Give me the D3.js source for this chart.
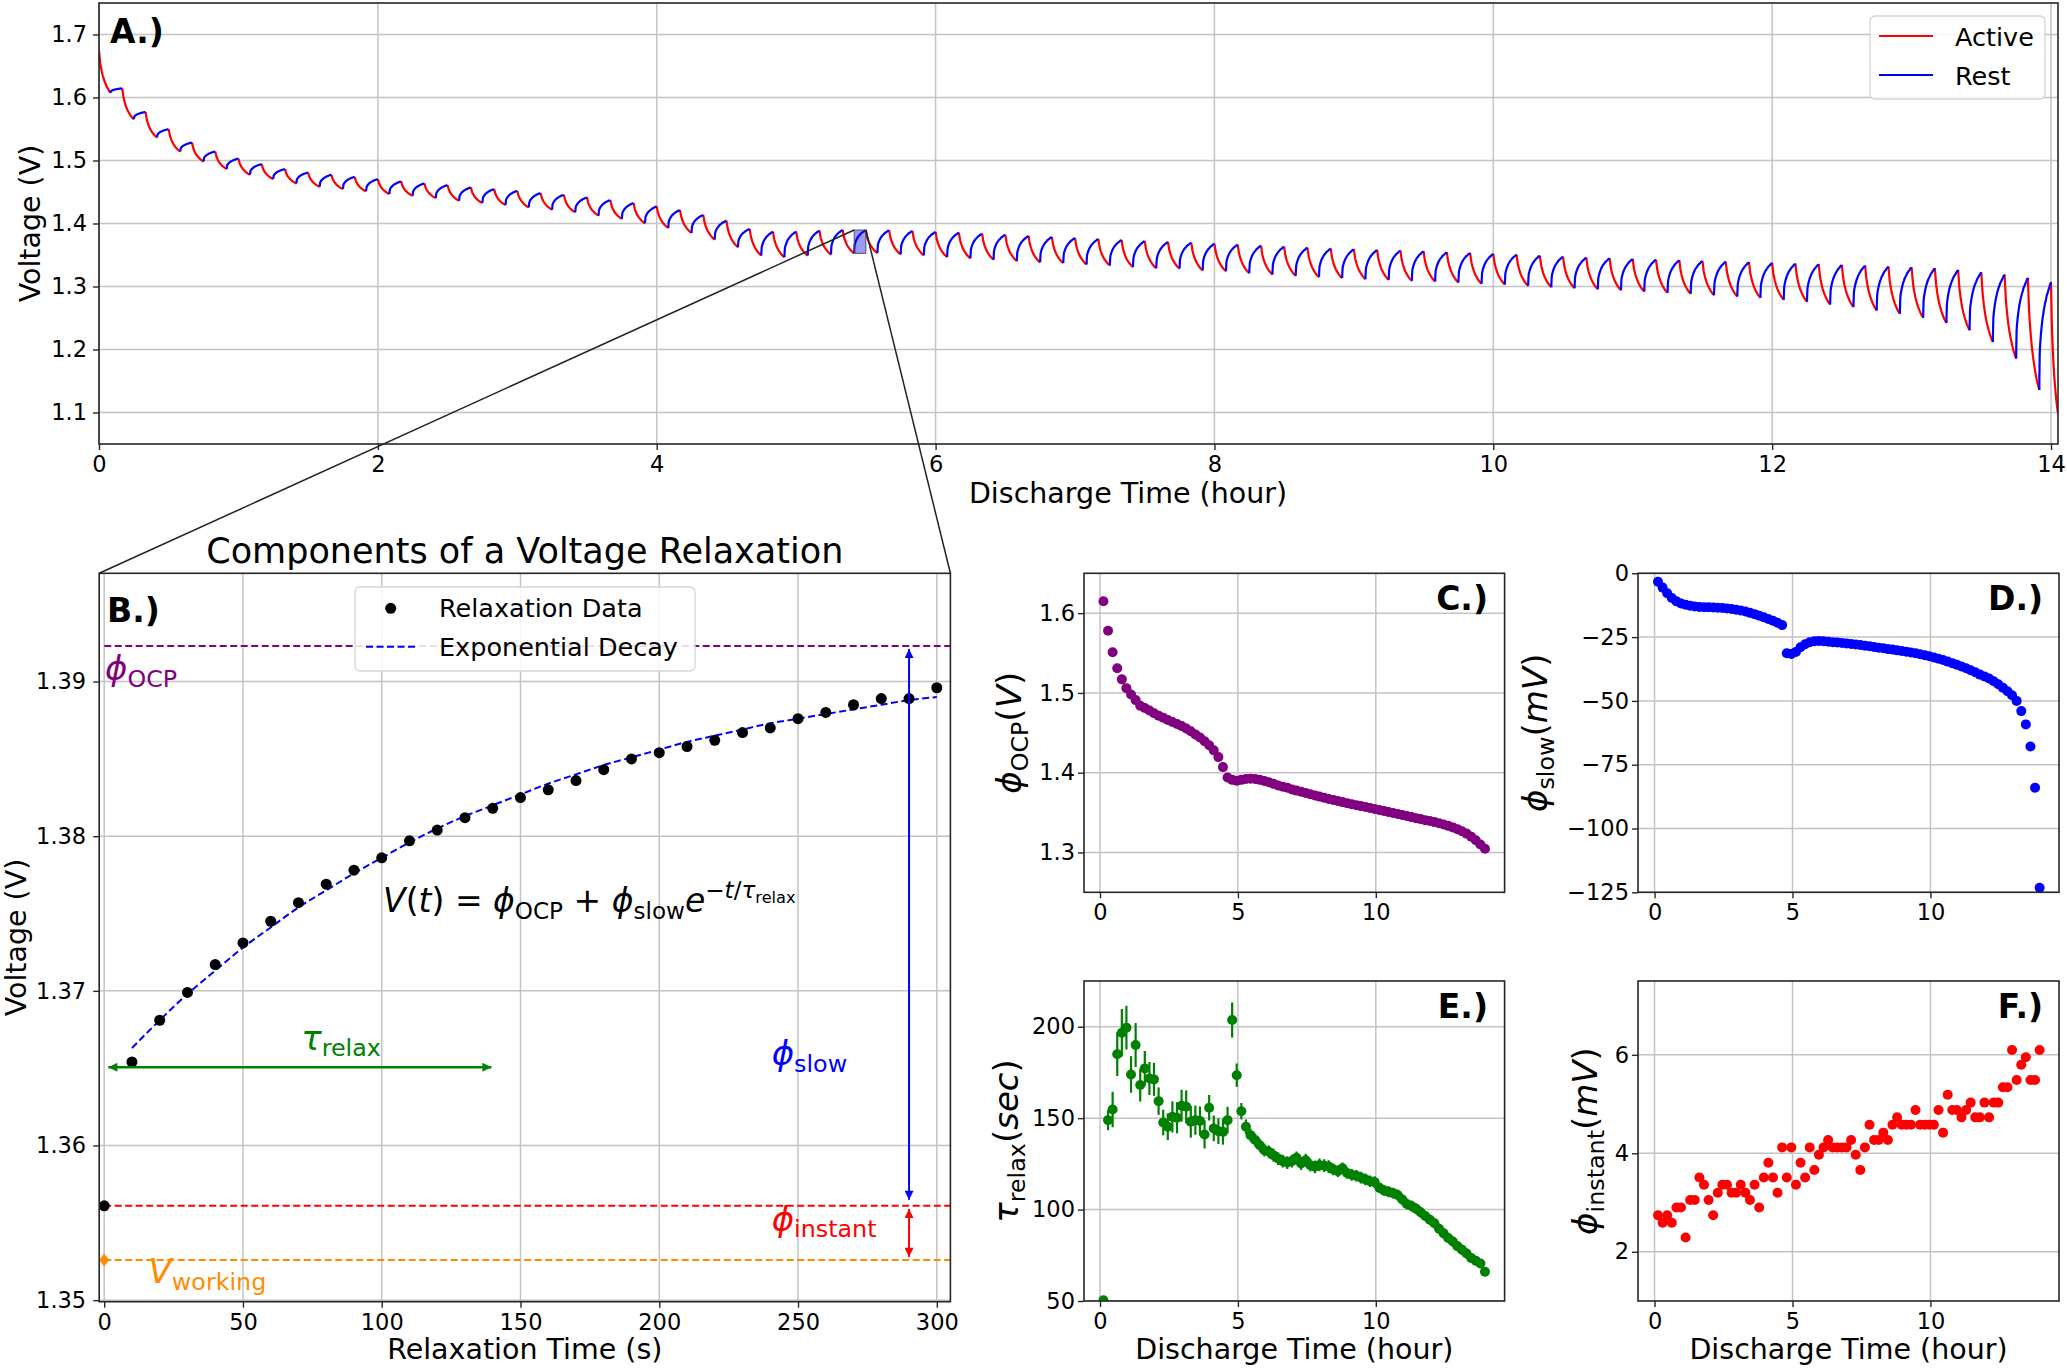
<!DOCTYPE html>
<html>
<head>
<meta charset="utf-8">
<script src="https://cdn.jsdelivr.net/npm/d3@7"></script>
<style>
  body { margin: 0; background: #fff; }
  text { font-family: "DejaVu Sans", sans-serif; }
</style>
</head>
<body>
<svg id="fig" width="2067" height="1370"></svg>
<script>
// ---------- data ----------

// middle of each 300 s rest, hours (one rest every 10 min)
var relaxHours = [
  0.125, 0.292, 0.458, 0.625, 0.792, 0.958,
  1.125, 1.292, 1.458, 1.625, 1.792, 1.958,
  2.125, 2.292, 2.458, 2.625, 2.792, 2.958,
  3.125, 3.292, 3.458, 3.625, 3.792, 3.958,
  4.125, 4.292, 4.458, 4.625, 4.792, 4.958,
  5.125, 5.292, 5.458, 5.625, 5.792, 5.958,
  6.125, 6.292, 6.458, 6.625, 6.792, 6.958,
  7.125, 7.292, 7.458, 7.625, 7.792, 7.958,
  8.125, 8.292, 8.458, 8.625, 8.792, 8.958,
  9.125, 9.292, 9.458, 9.625, 9.792, 9.958,
  10.125, 10.292, 10.458, 10.625, 10.792, 10.958,
  11.125, 11.292, 11.458, 11.625, 11.792, 11.958,
  12.125, 12.292, 12.458, 12.625, 12.792, 12.958,
  13.125, 13.292, 13.458, 13.625, 13.792, 13.958
];

// panel A: voltage at start of each rest (end of active) and at end of each rest
var restStartV = [
  1.6076, 1.5655, 1.5364, 1.5143, 1.4984, 1.4864, 1.4774, 1.4705, 1.4636, 1.4584,
  1.4547, 1.4510, 1.4468, 1.4441, 1.4405, 1.4362, 1.4326, 1.4294, 1.4256, 1.4220,
  1.4177, 1.4125, 1.4073, 1.4003, 1.3930, 1.3851, 1.3745, 1.3623, 1.3492, 1.3465,
  1.3492, 1.3508, 1.3526, 1.3532, 1.3511, 1.3495, 1.3468, 1.3447, 1.3426, 1.3404,
  1.3383, 1.3372, 1.3351, 1.3335, 1.3308, 1.3290, 1.3285, 1.3255, 1.3244, 1.3212,
  1.3191, 1.3170, 1.3149, 1.3133, 1.3117, 1.3106, 1.3090, 1.3080, 1.3064, 1.3043,
  1.3032, 1.3011, 1.2990, 1.2974, 1.2958, 1.2942, 1.2921, 1.2900, 1.2884, 1.2863,
  1.2842, 1.2821, 1.2789, 1.2758, 1.2715, 1.2673, 1.2621, 1.2568, 1.2505, 1.2421,
  1.2305, 1.2120, 1.1857, 1.1356
];
var restEndV = [
  1.6145, 1.5771, 1.5497, 1.5285, 1.5143, 1.5032, 1.4943, 1.4864, 1.4810, 1.4774,
  1.4742, 1.4705, 1.4668, 1.4636, 1.4611, 1.4573, 1.4547, 1.4520, 1.4484, 1.4457,
  1.4415, 1.4373, 1.4326, 1.4272, 1.4215, 1.4136, 1.4046, 1.3915, 1.3872, 1.3872,
  1.3888, 1.3899, 1.3896, 1.3894, 1.3883, 1.3867, 1.3856, 1.3840, 1.3824, 1.3803,
  1.3787, 1.3771, 1.3755, 1.3739, 1.3723, 1.3708, 1.3697, 1.3680, 1.3666, 1.3650,
  1.3634, 1.3618, 1.3603, 1.3592, 1.3581, 1.3571, 1.3560, 1.3544, 1.3534, 1.3518,
  1.3507, 1.3491, 1.3475, 1.3460, 1.3449, 1.3438, 1.3428, 1.3417, 1.3407, 1.3396,
  1.3386, 1.3375, 1.3364, 1.3354, 1.3343, 1.3333, 1.3317, 1.3306, 1.3290, 1.3264,
  1.3227, 1.3190, 1.3137, 1.3069
];
var startV = 1.674;       // t = 0
var endHour = 14.05, endV = 1.099;
// typical discharge pulse, fraction of the drop at evenly spaced times
var activeShape = [0, 0.3, 0.47, 0.6, 0.7, 0.78, 0.85, 0.91, 0.96, 1];
var zoomCycle = 32;       // rest shown in panel B

// panel B: one relaxation
var relaxSec = d3.range(0, 301, 10);
var relaxV = [
  1.3561, 1.3654, 1.3681, 1.3699, 1.3717, 1.3731, 1.3745, 1.3757, 1.3769, 1.3778,
  1.3786, 1.3797, 1.3804, 1.3812, 1.3818, 1.3825, 1.3830, 1.3836, 1.3843, 1.3850,
  1.3854, 1.3858, 1.3862, 1.3867, 1.3870, 1.3876, 1.3880, 1.3885, 1.3889, 1.3889,
  1.3896
];
var fitSec = d3.range(10, 301, 10);
var fitV = [
  1.3663, 1.3681, 1.3698, 1.3713, 1.3728, 1.3741, 1.3754, 1.3765, 1.3776, 1.3786,
  1.3796, 1.3805, 1.3813, 1.3820, 1.3827, 1.3834, 1.3840, 1.3846, 1.3851, 1.3856,
  1.3861, 1.3865, 1.3869, 1.3873, 1.3876, 1.3879, 1.3882, 1.3885, 1.3888, 1.3890
];
var phiOCP = 1.3923, vInstant = 1.3561, vWorking = 1.3526, tauRelax = 140, arrowSec = 290, tauArrowV = 1.36506;

// panels C-F, one value per rest
var ocpV = [
  1.615, 1.578, 1.551, 1.531, 1.517, 1.506, 1.498, 1.491, 1.484, 1.481,
  1.478, 1.4745, 1.4715, 1.4688, 1.466, 1.4635, 1.461, 1.4585, 1.4555, 1.452,
  1.448, 1.444, 1.4395, 1.4345, 1.428, 1.4195, 1.407, 1.394, 1.391, 1.390,
  1.391, 1.392, 1.3923, 1.392, 1.391, 1.3895, 1.388, 1.386, 1.384, 1.3825,
  1.381, 1.379, 1.3775, 1.376, 1.3745, 1.373, 1.3715, 1.370, 1.3685, 1.367,
  1.3657, 1.3644, 1.3631, 1.3618, 1.3605, 1.3593, 1.3581, 1.3569, 1.3557, 1.3545,
  1.3533, 1.3521, 1.3508, 1.3495, 1.3482, 1.3469, 1.3456, 1.3443, 1.343, 1.3418,
  1.3405, 1.3393, 1.338, 1.3366, 1.335, 1.3333, 1.3314, 1.3292, 1.3266, 1.3236,
  1.3198, 1.3152, 1.310, 1.3045
];
var slowMV = [
  -3.3, -5.6, -7.8, -9.7, -11.0, -11.8, -12.3, -12.7, -13.0, -13.2,
  -13.3, -13.3, -13.4, -13.5, -13.6, -13.8, -14.0, -14.3, -14.6, -15.0,
  -15.5, -16.0, -16.6, -17.2, -17.9, -18.6, -19.4, -20.3, -31.3, -31.6,
  -30.8, -29.0, -27.8, -27.0, -26.6, -26.5, -26.6, -26.8, -27.0, -27.1,
  -27.3, -27.5, -27.7, -27.9, -28.1, -28.4, -28.6, -28.9, -29.2, -29.4,
  -29.7, -29.9, -30.2, -30.4, -30.7, -31.0, -31.3, -31.7, -32.1, -32.5,
  -33.0, -33.5, -34.0, -34.6, -35.2, -35.8, -36.5, -37.2, -38.0, -38.8,
  -39.7, -40.4, -41.2, -42.3, -43.5, -44.8, -46.2, -47.8, -50.0, -54.0,
  -59.2, -67.9, -84.0, -123.2
];
var tauSec = [
  50.4, 148.9, 154.7, 185.0, 196.7, 199.5, 173.9, 190.0, 168.1, 177.2,
  171.7, 171.2, 159.3, 147.6, 145.3, 150.7, 150.2, 156.8, 156.2, 148.0,
  148.9, 148.4, 141.1, 155.7, 144.4, 142.9, 142.5, 148.9, 203.7, 173.5,
  153.8, 145.3, 140.7, 138.0, 135.2, 132.5, 131.6, 129.7, 127.9, 126.5,
  125.7, 126.5, 128.3, 125.2, 127.0, 124.3, 123.4, 124.4, 124.0, 123.5,
  122.0, 121.0, 122.6, 120.0, 119.0, 118.5, 117.5, 116.5, 115.5, 115.0,
  112.0, 110.5, 109.8, 109.0, 108.0, 105.5, 103.0, 102.0, 100.5, 98.5,
  96.5, 94.5, 92.5, 89.5, 87.0, 84.5, 82.5, 80.0, 78.0, 76.0,
  73.5, 72.0, 70.5, 66.0
];
var tauErr = [
  2, 5.5, 9.7, 12, 13, 12, 10, 12, 9, 9.5,
  9, 9, 7.5, 7, 7.3, 8.5, 8.5, 8.7, 9, 8.7,
  8, 8, 7.7, 7, 7, 7, 7, 7.3, 9.6, 6.4,
  4.5, 4, 3.5, 3.5, 3.5, 3.5, 3.5, 3.5, 3.5, 3.5,
  3.5, 3.5, 3.5, 3.5, 3.5, 3.5, 3.5, 3.5, 3.5, 3.5,
  3.2, 3.2, 3.2, 3.2, 3.2, 3.2, 3.2, 3.2, 3.2, 3.2,
  3, 3, 3, 3, 3, 3, 3, 3, 3, 3,
  2.8, 2.8, 2.8, 2.8, 2.8, 2.8, 2.8, 2.8, 2.8, 2.8,
  2.5, 2.5, 2.5, 2.5
];
var instantMV = [
  2.74, 2.59, 2.74, 2.59, 2.90, 2.90, 2.29, 3.05, 3.05, 3.51,
  3.36, 3.05, 2.74, 3.20, 3.36, 3.36, 3.20, 3.20, 3.36, 3.20,
  3.05, 3.36, 2.90, 3.51, 3.81, 3.51, 3.20, 4.12, 3.51, 4.12,
  3.36, 3.81, 3.51, 4.12, 3.66, 3.97, 4.12, 4.27, 4.12, 4.12,
  4.12, 4.12, 4.27, 3.97, 3.66, 4.12, 4.58, 4.27, 4.27, 4.42,
  4.27, 4.58, 4.73, 4.58, 4.58, 4.58, 4.88, 4.58, 4.58, 4.58,
  4.58, 4.88, 4.42, 5.19, 4.88, 4.88, 4.73, 4.88, 5.03, 4.73,
  4.73, 5.03, 4.73, 5.03, 5.03, 5.34, 5.34, 6.10, 5.49, 5.80,
  5.95, 5.49, 5.49, 6.10
];

// ticks
var ticksA_x = [0, 2, 4, 6, 8, 10, 12, 14];
var ticksA_y = [1.1, 1.2, 1.3, 1.4, 1.5, 1.6, 1.7];
var ticksB_x = [0, 50, 100, 150, 200, 250, 300];
var ticksB_y = [1.35, 1.36, 1.37, 1.38, 1.39];
var ticksHour = [0, 5, 10];
var ticksC_y = [1.3, 1.4, 1.5, 1.6];
var ticksD_y = [-125, -100, -75, -50, -25, 0];
var ticksE_y = [50, 100, 150, 200];
var ticksF_y = [2, 4, 6];

// ---------- drawing ----------
var svg = d3.select('#fig');
var FONT = '"DejaVu Sans", sans-serif';
var GRID = '#c4c4c4', SPINE = '#262626';
var PURPLE = '#800080', BLUE = '#0000ff', RED = '#ff0000', GREEN = '#008000', ORANGE = '#ff8c00';
var defs = svg.append('defs');
var clipId = 0;

function panel(o) {
  var x = d3.scaleLinear().domain(o.xDom).range([o.l, o.r]);
  var y = d3.scaleLinear().domain(o.yDom).range([o.b, o.t]);
  var g = svg.append('g');
  g.append('g').selectAll('line').data(o.xTicks).join('line')
    .attr('x1', function(d){ return x(d); }).attr('x2', function(d){ return x(d); })
    .attr('y1', o.t).attr('y2', o.b).attr('stroke', GRID).attr('stroke-width', 1.5);
  g.append('g').selectAll('line').data(o.yTicks).join('line')
    .attr('y1', function(d){ return y(d); }).attr('y2', function(d){ return y(d); })
    .attr('x1', o.l).attr('x2', o.r).attr('stroke', GRID).attr('stroke-width', 1.5);
  var xa = g.append('g').attr('transform', 'translate(0,' + o.b + ')')
    .call(d3.axisBottom(x).tickValues(o.xTicks).tickFormat(o.xFmt).tickSize(6).tickPadding(6));
  var ya = g.append('g').attr('transform', 'translate(' + o.l + ',0)')
    .call(d3.axisLeft(y).tickValues(o.yTicks).tickFormat(o.yFmt).tickSize(6).tickPadding(o.yPad || 6));
  [xa, ya].forEach(function(a){
    a.select('.domain').remove();
    a.selectAll('line').attr('stroke', SPINE).attr('stroke-width', 1.4);
    a.selectAll('text').attr('font-size', 22.5).attr('font-family', FONT).attr('fill', '#000');
  });
  var id = 'clip' + (clipId++);
  defs.append('clipPath').attr('id', id).append('rect')
    .attr('x', o.l).attr('y', o.t).attr('width', o.r - o.l).attr('height', o.b - o.t);
  var plot = g.append('g').attr('clip-path', 'url(#' + id + ')');
  var over = g.append('g');
  g.append('rect').attr('x', o.l).attr('y', o.t).attr('width', o.r - o.l).attr('height', o.b - o.t)
    .attr('fill', 'none').attr('stroke', SPINE).attr('stroke-width', 1.6);
  return { x: x, y: y, plot: plot, over: over, g: g, o: o };
}

// rich text with mathtext-like sub/superscripts
function rich(t, pieces, size) {
  var shift = 0;
  pieces.forEach(function(p){
    var kind = p[1], target = 0, fs = size, it = false;
    if (kind === 'i') it = true;
    if (kind === 'sub') { target = 0.2 * size; fs = 0.7 * size; }
    if (kind === 'sup' || kind === 'supi') { target = -0.42 * size; fs = 0.7 * size; it = kind === 'supi'; }
    if (kind === 'supsub') { target = -0.28 * size; fs = 0.49 * size; }
    t.append('tspan').attr('dy', target - shift).attr('font-size', fs)
      .attr('font-style', it ? 'italic' : 'normal').text(p[0]);
    shift = target;
  });
  return t;
}

function yLabel(p, cx, pieces, size) {
  var t = svg.append('text').attr('text-anchor', 'middle').attr('fill', '#000')
    .attr('transform', 'translate(' + cx + ',' + ((p.o.t + p.o.b) / 2) + ') rotate(-90)');
  rich(t, pieces, size);
}
function xLabel(cx, y, txt) {
  svg.append('text').attr('x', cx).attr('y', y).attr('text-anchor', 'middle')
    .attr('font-size', 28.5).text(txt);
}
function tag(x, y, txt, anchor) {
  svg.append('text').attr('x', x).attr('y', y).attr('text-anchor', anchor || 'start')
    .attr('font-size', 33).attr('font-weight', 'bold').text(txt);
}

// arrow heads
[['g', GREEN], ['b', BLUE], ['r', RED]].forEach(function(m){
  defs.append('marker').attr('id', 'ah-' + m[0]).attr('viewBox', '0 0 10 10')
    .attr('refX', 10).attr('refY', 5).attr('markerUnits', 'userSpaceOnUse')
    .attr('markerWidth', 11).attr('markerHeight', 9).attr('orient', 'auto-start-reverse')
    .append('path').attr('d', 'M0,0 L10,5 L0,10 z').attr('fill', m[1]);
});

var f1 = d3.format('.1f'), f2 = d3.format('.2f'), fd = d3.format('d');

// ---- panel A ----
var A = panel({ l: 99, r: 2058, t: 3, b: 444, xDom: [0, 14.05], yDom: [1.05, 1.75],
  xTicks: ticksA_x, yTicks: ticksA_y, xFmt: fd, yFmt: f1 });
var lineA = d3.line().x(function(d){ return A.x(d[0]); }).y(function(d){ return A.y(d[1]); });
var restHalf = 150 / 3600;
var restFrac = relaxV.map(function(v){ return (v - vWorking) / (relaxV[relaxV.length - 1] - vWorking); });
var activeSegs = [], restSegs = [];
var prevT = 0, prevV = startV;
relaxHours.forEach(function(h, i){
  var rs = h - restHalf, re = h + restHalf;
  var lo = restStartV[i], hi = restEndV[i];
  activeSegs.push(activeShape.map(function(f, k){
    return [prevT + (rs - prevT) * k / (activeShape.length - 1), prevV + (lo - prevV) * f];
  }));
  restSegs.push([[rs, lo]].concat(relaxSec.map(function(s, k){
    return [rs + s / 3600, lo + (hi - lo) * restFrac[k]];
  })));
  prevT = re; prevV = hi;
});
activeSegs.push(activeShape.map(function(f, k){
  return [prevT + (endHour - prevT) * k / (activeShape.length - 1), prevV + (endV - prevV) * f];
}));
A.plot.selectAll('path.act').data(activeSegs).join('path').attr('class', 'act')
  .attr('d', lineA).attr('fill', 'none').attr('stroke', RED).attr('stroke-width', 2.2);
A.plot.selectAll('path.rest').data(restSegs).join('path').attr('class', 'rest')
  .attr('d', lineA).attr('fill', 'none').attr('stroke', BLUE).attr('stroke-width', 2.2);

// zoom box
var zs = relaxHours[zoomCycle] - restHalf, ze = relaxHours[zoomCycle] + restHalf;
var zLo = vWorking, zHi = relaxV[relaxV.length - 1];
A.plot.append('rect').attr('x', A.x(zs)).attr('y', A.y(zHi))
  .attr('width', A.x(ze) - A.x(zs)).attr('height', A.y(zLo) - A.y(zHi))
  .attr('fill', BLUE).attr('fill-opacity', 0.4).attr('stroke', '#555').attr('stroke-width', 1);

// legend A
var legA = svg.append('g');
legA.append('rect').attr('x', 1870).attr('y', 16).attr('width', 175).attr('height', 83).attr('rx', 5)
  .attr('fill', '#fff').attr('fill-opacity', 0.85).attr('stroke', '#d5d5d5').attr('stroke-width', 1.3);
[['Active', RED, 36], ['Rest', BLUE, 75]].forEach(function(e){
  legA.append('line').attr('x1', 1879).attr('x2', 1933).attr('y1', e[2]).attr('y2', e[2])
    .attr('stroke', e[1]).attr('stroke-width', 2.2);
  legA.append('text').attr('x', 1955).attr('y', e[2] + 9.5).attr('font-size', 25.5).text(e[0]);
});
tag(110, 43, 'A.)');
svg.append('text').attr('text-anchor', 'middle').attr('font-size', 28.5)
  .attr('transform', 'translate(40,' + ((3 + 444) / 2) + ') rotate(-90)').text('Voltage (V)');
xLabel(1128, 503, 'Discharge Time (hour)');

// ---- panel B ----
var B = panel({ l: 99.2, r: 950.4, t: 573.3, b: 1301.7, xDom: [-1.8, 304.9], yDom: [1.3499, 1.397],
  xTicks: ticksB_x, yTicks: ticksB_y, xFmt: fd, yFmt: f2, yPad: 7 });
var lineB = d3.line().x(function(d){ return B.x(d[0]); }).y(function(d){ return B.y(d[1]); });
var tEnd = B.x.domain()[1];
[[phiOCP, PURPLE], [vInstant, RED], [vWorking, ORANGE]].forEach(function(h){
  B.plot.append('line').attr('x1', B.x(0)).attr('x2', B.x(tEnd)).attr('y1', B.y(h[0])).attr('y2', B.y(h[0]))
    .attr('stroke', h[1]).attr('stroke-width', 2).attr('stroke-dasharray', '7,3.5');
});
B.plot.append('path').datum(fitSec.map(function(s, i){ return [s, fitV[i]]; }))
  .attr('d', lineB.curve(d3.curveMonotoneX)).attr('fill', 'none').attr('stroke', BLUE)
  .attr('stroke-width', 2).attr('stroke-dasharray', '7,3.5');
B.plot.selectAll('circle').data(relaxSec).join('circle')
  .attr('cx', function(d){ return B.x(d); }).attr('cy', function(d, i){ return B.y(relaxV[i]); })
  .attr('r', 5.5).attr('fill', '#000');
B.over.append('path').attr('d', 'M0,-6.5 L5,0 L0,6.5 L-5,0 Z')
  .attr('transform', 'translate(' + B.x(0) + ',' + B.y(vWorking) + ')')
  .attr('fill', ORANGE);

// arrows
function arrow(layer, x1, y1, x2, y2, color, m, w) {
  layer.append('line').attr('x1', x1).attr('y1', y1).attr('x2', x2).attr('y2', y2)
    .attr('stroke', color).attr('stroke-width', w)
    .attr('marker-start', 'url(#ah-' + m + ')').attr('marker-end', 'url(#ah-' + m + ')');
}
arrow(B.over, B.x(1.5), B.y(tauArrowV), B.x(tauRelax - 0.5), B.y(tauArrowV), GREEN, 'g', 2.6);
arrow(B.over, B.x(arrowSec), B.y(phiOCP - 0.0002), B.x(arrowSec), B.y(vInstant + 0.0004), BLUE, 'b', 2);
arrow(B.over, B.x(arrowSec), B.y(vInstant - 0.0002), B.x(arrowSec), B.y(vWorking + 0.0002), RED, 'r', 2);

function bText(sec, v, color, pieces, size) {
  var t = B.over.append('text').attr('x', B.x(sec)).attr('y', B.y(v)).attr('fill', color);
  rich(t, pieces, size);
}
bText(0.3, 1.3901, PURPLE, [['ϕ', 'i'], ['OCP', 'sub']], 34);
bText(71, 1.3662, GREEN, [['τ', 'i'], ['relax', 'sub']], 34);
bText(240.5, 1.3652, BLUE, [['ϕ', 'i'], ['slow', 'sub']], 34);
bText(240.5, 1.3545, RED, [['ϕ', 'i'], ['instant', 'sub']], 34);
bText(16, 1.3511, ORANGE, [['V', 'i'], ['working', 'sub']], 34);
bText(100.5, 1.3751, '#000', [['V', 'i'], ['(', 'n'], ['t', 'i'], [') = ', 'n'], ['ϕ', 'i'], ['OCP', 'sub'],
  [' + ', 'n'], ['ϕ', 'i'], ['slow', 'sub'], ['e', 'i'], ['−', 'sup'], ['t', 'supi'], ['/', 'sup'],
  ['τ', 'supi'], ['relax', 'supsub']], 33);

// legend B
var legB = svg.append('g');
legB.append('rect').attr('x', 355).attr('y', 587).attr('width', 340).attr('height', 84).attr('rx', 5)
  .attr('fill', '#fff').attr('fill-opacity', 0.85).attr('stroke', '#d5d5d5').attr('stroke-width', 1.3);
legB.append('circle').attr('cx', 390.7).attr('cy', 608.3).attr('r', 5.5).attr('fill', '#000');
legB.append('line').attr('x1', 366).attr('x2', 416).attr('y1', 646.7).attr('y2', 646.7)
  .attr('stroke', BLUE).attr('stroke-width', 2).attr('stroke-dasharray', '7,3.5');
legB.append('text').attr('x', 439).attr('y', 617).attr('font-size', 25.5).text('Relaxation Data');
legB.append('text').attr('x', 439).attr('y', 655.5).attr('font-size', 25.5).text('Exponential Decay');

tag(107, 622, 'B.)');
svg.append('text').attr('x', (99.2 + 950.4) / 2).attr('y', 563).attr('text-anchor', 'middle')
  .attr('font-size', 35).text('Components of a Voltage Relaxation');
svg.append('text').attr('text-anchor', 'middle').attr('font-size', 28.5)
  .attr('transform', 'translate(26,' + ((573.3 + 1301.7) / 2) + ') rotate(-90)').text('Voltage (V)');
xLabel((99.2 + 950.4) / 2, 1359, 'Relaxation Time (s)');

// connectors from zoom box to panel B
var conn = svg.append('g').attr('stroke', '#222').attr('stroke-width', 1.5);
conn.append('line').attr('x1', A.x(zs)).attr('y1', A.y(zHi)).attr('x2', B.o.l).attr('y2', B.o.t);
conn.append('line').attr('x1', A.x(ze)).attr('y1', A.y(zHi)).attr('x2', B.o.r).attr('y2', B.o.t);

// ---- panels C-F ----
var DOT = 5;
function scatter(p, vals, color) {
  p.plot.selectAll('circle').data(vals).join('circle')
    .attr('cx', function(d, i){ return p.x(relaxHours[i]); })
    .attr('cy', function(d){ return p.y(d); })
    .attr('r', DOT).attr('fill', color);
}
var C = panel({ l: 1084, r: 1504.6, t: 573.3, b: 892.3, xDom: [-0.58, 14.67], yDom: [1.25, 1.65],
  xTicks: ticksHour, yTicks: ticksC_y, xFmt: fd, yFmt: f1, yPad: 3 });
scatter(C, ocpV, PURPLE);
tag(1488, 610, 'C.)', 'end');
yLabel(C, 1021, [['ϕ', 'i'], ['OCP', 'sub'], ['(', 'n'], ['V', 'i'], [')', 'n']], 34);

var D = panel({ l: 1638, r: 2059, t: 573.3, b: 892.3, xDom: [-0.6, 14.66], yDom: [-125, 0],
  xTicks: ticksHour, yTicks: ticksD_y, xFmt: fd, yFmt: fd, yPad: 3 });
scatter(D, slowMV, BLUE);
tag(2043, 610, 'D.)', 'end');
yLabel(D, 1547, [['ϕ', 'i'], ['slow', 'sub'], ['(', 'n'], ['mV', 'i'], [')', 'n']], 34);

var E = panel({ l: 1084, r: 1504.6, t: 981, b: 1301, xDom: [-0.58, 14.67], yDom: [50, 225],
  xTicks: ticksHour, yTicks: ticksE_y, xFmt: fd, yFmt: fd, yPad: 3 });
E.plot.selectAll('line.err').data(tauSec).join('line').attr('class', 'err')
  .attr('x1', function(d, i){ return E.x(relaxHours[i]); }).attr('x2', function(d, i){ return E.x(relaxHours[i]); })
  .attr('y1', function(d, i){ return E.y(d - tauErr[i]); }).attr('y2', function(d, i){ return E.y(d + tauErr[i]); })
  .attr('stroke', GREEN).attr('stroke-width', 2.2);
E.plot.selectAll('circle').data(tauSec).join('circle')
  .attr('cx', function(d, i){ return E.x(relaxHours[i]); }).attr('cy', function(d){ return E.y(d); })
  .attr('r', DOT).attr('fill', GREEN);
tag(1488, 1018, 'E.)', 'end');
yLabel(E, 1018, [['τ', 'i'], ['relax', 'sub'], ['(', 'n'], ['sec', 'i'], [')', 'n']], 34);
xLabel((1084 + 1504.6) / 2, 1359, 'Discharge Time (hour)');

var F = panel({ l: 1638, r: 2059, t: 981, b: 1301, xDom: [-0.6, 14.66], yDom: [1.0, 7.5],
  xTicks: ticksHour, yTicks: ticksF_y, xFmt: fd, yFmt: fd, yPad: 3 });
scatter(F, instantMV, RED);
tag(2043, 1018, 'F.)', 'end');
yLabel(F, 1597, [['ϕ', 'i'], ['instant', 'sub'], ['(', 'n'], ['mV', 'i'], [')', 'n']], 34);
xLabel((1638 + 2059) / 2, 1359, 'Discharge Time (hour)');
</script>
</body>
</html>
